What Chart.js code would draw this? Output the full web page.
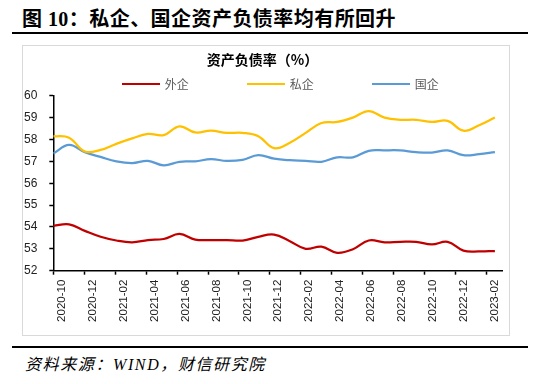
<!DOCTYPE html>
<html><head><meta charset="utf-8">
<script src="https://cdn.jsdelivr.net/npm/chart.js@4.4.1/dist/chart.umd.min.js"></script>
<style>
html,body{margin:0;padding:0;background:#fff;}
body{width:541px;height:384px;overflow:hidden;position:relative;}
#title{position:absolute;left:22px;top:6px;font-weight:bold;font-size:20px;font-family:"Liberation Serif","Noto Sans CJK SC",serif;color:#000;white-space:nowrap;line-height:26px;letter-spacing:0.45px;}
.rule{position:absolute;left:12px;width:516px;height:2px;background:#000;}
#box{position:absolute;left:22px;top:45px;width:488px;height:291px;border:1px solid #d9d9d9;box-sizing:border-box;}
#wrap{position:absolute;left:0;top:0;width:486px;height:289px;}
#legend{position:absolute;left:121.7px;top:77px;height:14px;display:flex;}
.item{width:125px;display:flex;align-items:center;height:14px;}
.swatch{width:38px;height:2.5px;margin-right:5px;}
.lab{font:12px "Noto Sans CJK SC",sans-serif;color:#595959;line-height:14px;}
#source{position:absolute;left:25px;top:355px;font-style:italic;font-size:16px;font-family:"Liberation Serif","Noto Sans CJK SC",serif;letter-spacing:1.6px;line-height:20px;color:#000;white-space:nowrap;}
</style>
</head>
<body>
<div id="title">图 10：私企、国企资产负债率均有所回升</div>
<div class="rule" style="top:32px"></div>
<div id="box"><div id="wrap"><canvas id="c"></canvas></div></div>
<div id="legend"></div>
<div class="rule" style="top:346px"></div>
<div id="source">资料来源：WIND，财信研究院</div>
<script>
const months = ['2020-10','2020-11','2020-12','2021-01','2021-02','2021-03','2021-04','2021-05','2021-06','2021-07','2021-08','2021-09','2021-10','2021-11','2021-12','2022-01','2022-02','2022-03','2022-04','2022-05','2022-06','2022-07','2022-08','2022-09','2022-10','2022-11','2022-12','2023-01','2023-02'];
const tickLabels = ['2020-10','2020-12','2021-02','2021-04','2021-06','2021-08','2021-10','2021-12','2022-02','2022-04','2022-06','2022-08','2022-10','2022-12','2023-02'];
const waiqi = [54.05,54.12,53.82,53.55,53.38,53.3,53.4,53.45,53.68,53.42,53.4,53.4,53.38,53.55,53.65,53.35,53.0,53.1,52.82,52.98,53.38,53.3,53.32,53.32,53.2,53.32,52.92,52.88,52.9];
const siqi = [58.15,58.08,57.45,57.52,57.8,58.05,58.25,58.2,58.6,58.32,58.4,58.3,58.3,58.15,57.6,57.85,58.3,58.75,58.8,59.0,59.3,59.0,58.9,58.9,58.8,58.85,58.4,58.65,59.0];
const guoqi = [57.36,57.75,57.42,57.2,57.0,56.92,57.02,56.82,56.98,57.0,57.1,57.02,57.07,57.28,57.12,57.05,57.02,56.98,57.18,57.18,57.48,57.5,57.5,57.42,57.4,57.5,57.28,57.33,57.42];
const seriesNames = ['外企','私企','国企'];
const seriesColors = ['#C00000','#FFC000','#5B9BD5'];
const seriesValues = [waiqi, siqi, guoqi];

const datasets = seriesValues.map((vals, s) => ({
  label: seriesNames[s],
  data: vals.map((v, i) => ({x: i, y: v})),
  borderColor: seriesColors[s],
  backgroundColor: seriesColors[s],
  borderWidth: 2.25,
  pointRadius: 0,
  tension: 0.4,
  fill: false
}));

// HTML legend built from the series
const leg = document.getElementById('legend');
seriesNames.forEach((n, s) => {
  const it = document.createElement('div'); it.className = 'item';
  const sw = document.createElement('div'); sw.className = 'swatch'; sw.style.background = seriesColors[s];
  const lb = document.createElement('span'); lb.className = 'lab'; lb.textContent = n;
  it.appendChild(sw); it.appendChild(lb); leg.appendChild(it);
});

const tickSpan = 27.47; // position of last tick mark (in month units)
new Chart(document.getElementById('c'), {
  type: 'line',
  data: { datasets },
  options: {
    responsive: true,
    maintainAspectRatio: false,
    animation: false,
    layout: { padding: { left: 0, right: 7, top: 0, bottom: 0 } },
    plugins: {
      legend: { display: false },
      tooltip: { enabled: false },
      title: {
        display: true,
        text: '资产负债率（%）',
        color: '#000',
        font: { family: '"Noto Sans CJK SC", sans-serif', size: 14, weight: 'bold', lineHeight: 1.2 },
        padding: { top: 5, bottom: 27.9 }
      }
    },
    scales: {
      x: {
        type: 'linear',
        min: 0,
        max: 28.45,
        afterBuildTicks: (scale) => {
          scale.ticks = tickLabels.map((l, k) => ({ value: k * tickSpan / (tickLabels.length - 1) }));
        },
        afterFit: (scale) => { scale.height = 64.3; },
        grid: { drawOnChartArea: false, drawTicks: true, tickLength: 4, tickColor: '#000', tickWidth: 1.5 },
        border: { display: true, color: '#000', width: 1.5 },
        ticks: {
          autoSkip: false,
          minRotation: 90,
          maxRotation: 90,
          padding: 5,
          labelOffset: 8.4,
          color: '#222',
          font: { family: '"Liberation Sans", Arial, sans-serif', size: 11.5 },
          callback: (v, i) => tickLabels[i]
        }
      },
      y: {
        min: 52,
        max: 60,
        afterFit: (scale) => { scale.width = 30.3; },
        grid: { drawOnChartArea: false, drawTicks: true, tickLength: 4, tickColor: '#000', tickWidth: 1.5 },
        border: { display: true, color: '#000', width: 1.5 },
        ticks: {
          stepSize: 1,
          padding: 12,
          color: '#222',
          font: { family: '"Liberation Sans", Arial, sans-serif', size: 12 }
        }
      }
    }
  }
});
</script>
</body></html>
